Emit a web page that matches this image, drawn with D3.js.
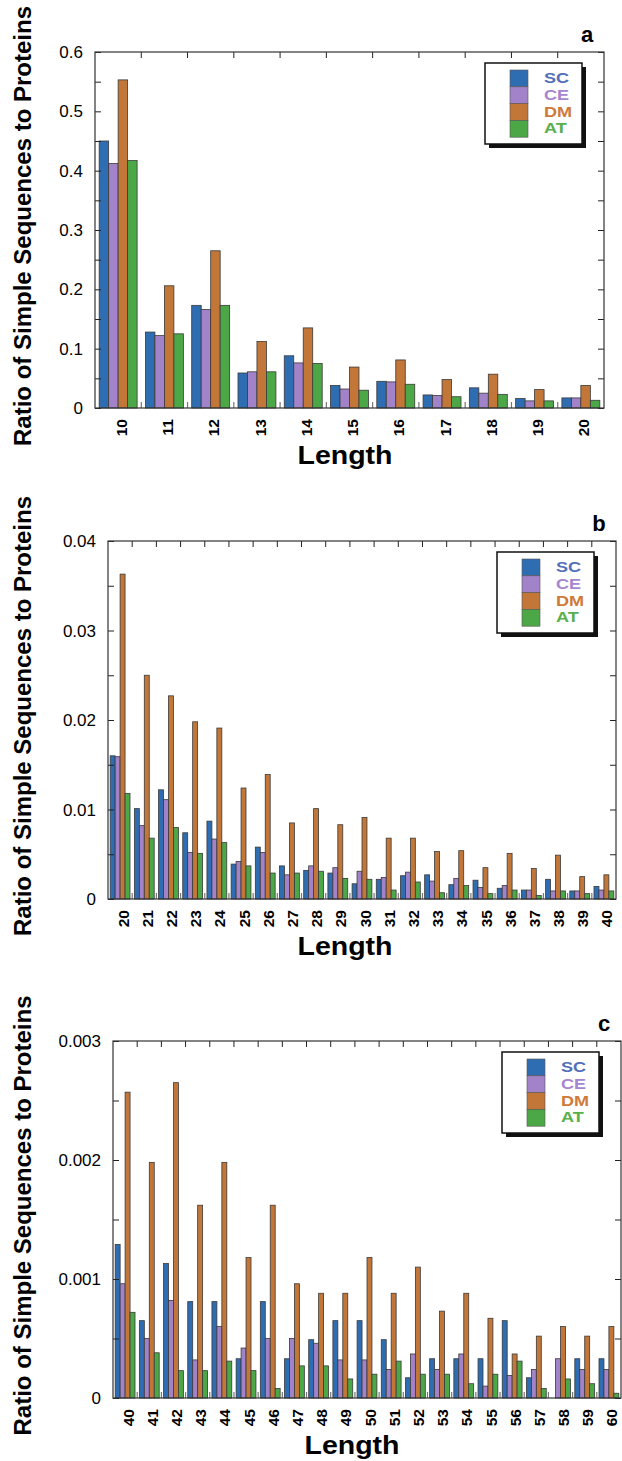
<!DOCTYPE html>
<html>
<head>
<meta charset="utf-8">
<script src="https://cdn.jsdelivr.net/npm/d3@7"></script>
<style>
  body { margin: 0; background: #fff; }
  svg text { font-family: "Liberation Sans", Arial, Helvetica, sans-serif; }
</style>
</head>
<body>
<div id="chart"></div>
<script>
/* jshint esversion: 6 */

// series names and colours
var seriesNames = ["SC", "CE", "DM", "AT"];
var barColors = ["#2f6db3", "#a282c9", "#c27638", "#4ca846"];
var labelColors = ["#5270ba", "#a687cf", "#d07a3a", "#58b04a"];

// panel a : lengths 10 - 20
var lengthsA = ["10", "11", "12", "13", "14", "15", "16", "17", "18", "19", "20"];
var scA = [0.450, 0.128, 0.173, 0.059, 0.088, 0.038, 0.045, 0.022, 0.034, 0.016, 0.017];
var ceA = [0.412, 0.122, 0.166, 0.061, 0.076, 0.032, 0.044, 0.021, 0.025, 0.012, 0.017];
var dmA = [0.553, 0.206, 0.265, 0.112, 0.135, 0.069, 0.081, 0.048, 0.057, 0.031, 0.038];
var atA = [0.417, 0.125, 0.173, 0.061, 0.075, 0.030, 0.040, 0.019, 0.023, 0.012, 0.013];
var yTicksA = [0, 0.1, 0.2, 0.3, 0.4, 0.5, 0.6];
var yLabelsA = ["0", "0.1", "0.2", "0.3", "0.4", "0.5", "0.6"];

// panel b : lengths 20 - 40
var lengthsB = ["20", "21", "22", "23", "24", "25", "26", "27", "28", "29", "30",
                "31", "32", "33", "34", "35", "36", "37", "38", "39", "40"];
var scB = [0.0160, 0.0101, 0.0122, 0.0074, 0.0087, 0.0039, 0.0058, 0.0037, 0.0032, 0.0029, 0.0017,
           0.0022, 0.0026, 0.0027, 0.0016, 0.0021, 0.0012, 0.0010, 0.0022, 0.0009, 0.0014];
var ceB = [0.0159, 0.0082, 0.0111, 0.0052, 0.0067, 0.0042, 0.0052, 0.0027, 0.0037, 0.0035, 0.0031,
           0.0024, 0.0030, 0.0020, 0.0023, 0.0013, 0.0015, 0.0010, 0.0009, 0.0009, 0.0010];
var dmB = [0.0363, 0.0250, 0.0227, 0.0198, 0.0191, 0.0124, 0.0139, 0.0085, 0.0101, 0.0083, 0.0091,
           0.0068, 0.0068, 0.0053, 0.0054, 0.0035, 0.0051, 0.0034, 0.0049, 0.0025, 0.0027];
var atB = [0.0118, 0.0068, 0.0080, 0.0051, 0.0063, 0.0037, 0.0029, 0.0029, 0.0031, 0.0023, 0.0022,
           0.0010, 0.0019, 0.0007, 0.0015, 0.0006, 0.0010, 0.0004, 0.0009, 0.0006, 0.0009];
var yTicksB = [0, 0.01, 0.02, 0.03, 0.04];
var yLabelsB = ["0", "0.01", "0.02", "0.03", "0.04"];

// panel c : lengths 40 - 60
var lengthsC = ["40", "41", "42", "43", "44", "45", "46", "47", "48", "49", "50",
                "51", "52", "53", "54", "55", "56", "57", "58", "59", "60"];
var scC = [0.00129, 0.00065, 0.00113, 0.00081, 0.00081, 0.00033, 0.00081, 0.00033, 0.00049, 0.00065, 0.00065,
           0.00049, 0.00017, 0.00033, 0.00033, 0.00033, 0.00065, 0.00017, 0, 0.00033, 0.00033];
var ceC = [0.00096, 0.00050, 0.00082, 0.00032, 0.00060, 0.00042, 0.00050, 0.00050, 0.00046, 0.00032, 0.00032,
           0.00024, 0.00037, 0.00024, 0.00037, 0.00010, 0.00019, 0.00024, 0.00033, 0.00024, 0.00024];
var dmC = [0.00257, 0.00198, 0.00265, 0.00162, 0.00198, 0.00118, 0.00162, 0.00096, 0.00088, 0.00088, 0.00118,
           0.00088, 0.00110, 0.00073, 0.00088, 0.00067, 0.00037, 0.00052, 0.00060, 0.00052, 0.00060];
var atC = [0.00072, 0.00038, 0.00023, 0.00023, 0.00031, 0.00023, 0.00008, 0.00027, 0.00027, 0.00016, 0.00020,
           0.00031, 0.00020, 0.00020, 0.00012, 0.00020, 0.00031, 0.00008, 0.00016, 0.00012, 0.00004];
var yTicksC = [0, 0.001, 0.002, 0.003];
var yLabelsC = ["0", "0.001", "0.002", "0.003"];

var W = 622, H = 1461;
var yTitle = "Ratio of Simple Sequences to Proteins";

var svg = d3.select("#chart").append("svg")
  .attr("width", W)
  .attr("height", H);

// one panel of grouped bars with the boxed frame
function drawPanel(p) {
  var g = svg.append("g");
  var n = p.cats.length;

  var x0 = d3.scaleBand().domain(p.cats).range([p.left, p.right]).padding(0);
  var bw = x0.bandwidth();
  var x1 = d3.scaleBand().domain(seriesNames).range([bw * 0.09, bw * 0.91]).padding(0);
  var y = d3.scaleLinear().domain([0, p.yMax]).range([p.bottom, p.top]);

  // bars
  var rows = p.cats.map(function (c, i) {
    return { cat: c, vals: p.series.map(function (s, k) { return { k: k, v: s[i] }; }) };
  });
  var grp = g.selectAll(".grp").data(rows).enter().append("g")
    .attr("transform", function (d) { return "translate(" + x0(d.cat) + ",0)"; });
  grp.selectAll("rect").data(function (d) { return d.vals.filter(function (e) { return e.v > 0; }); })
    .enter().append("rect")
    .attr("x", function (d) { return x1(seriesNames[d.k]); })
    .attr("width", x1.bandwidth())
    .attr("y", function (d) { return y(d.v); })
    .attr("height", function (d) { return p.bottom - y(d.v); })
    .style("fill", function (d) { return barColors[d.k]; })
    .style("stroke", "#3a3a3a")
    .style("stroke-width", 0.8);

  // minor ticks on left / right at half steps
  var step = p.yTicks[1] - p.yTicks[0];
  var minor = [];
  for (var i = 0; i < p.yTicks.length * 2 - 1; i++) {
    minor.push(i * step / 2);
  }
  var inner = [];
  for (var j = 1; j < n; j++) {
    inner.push(p.left + j * bw);
  }

  var left = d3.axisLeft(y).tickValues(minor).tickSize(-6).tickFormat("");
  var right = d3.axisRight(y).tickValues(minor).tickSize(-6).tickFormat("");
  g.append("g").attr("transform", "translate(" + p.left + ",0)").call(left);
  g.append("g").attr("transform", "translate(" + p.right + ",0)").call(right);

  // top ticks at group boundaries
  g.selectAll(".tt").data(inner).enter().append("line")
    .attr("x1", function (d) { return d; }).attr("x2", function (d) { return d; })
    .attr("y1", p.top).attr("y2", p.top + 6)
    .style("stroke", "#222").style("stroke-width", 1);
  // bottom ticks (lighter)
  g.selectAll(".bt").data(inner).enter().append("line")
    .attr("x1", function (d) { return d; }).attr("x2", function (d) { return d; })
    .attr("y1", p.bottom).attr("y2", p.bottom - 6)
    .style("stroke", "#777").style("stroke-width", 1.2);

  g.selectAll(".domain").remove();
  g.selectAll(".tick line").style("stroke", "#222");

  // frame
  g.append("rect")
    .attr("x", p.left).attr("y", p.top)
    .attr("width", p.right - p.left).attr("height", p.bottom - p.top)
    .style("fill", "none").style("stroke", "#333").style("stroke-width", 1.2);

  // y tick labels
  g.selectAll(".yl").data(p.yTicks).enter().append("text")
    .attr("x", p.left - 12)
    .attr("y", function (d) { return y(d); })
    .attr("dy", "0.36em")
    .attr("text-anchor", "end")
    .style("font-size", "17px")
    .text(function (d, i) { return p.yLabels[i]; });

  // x tick labels, rotated
  g.selectAll(".xl").data(p.cats).enter().append("text")
    .attr("transform", function (d) {
      return "translate(" + (x0(d) + bw / 2 + 3) + "," + (p.bottom + 11) + ") rotate(-90)";
    })
    .attr("dy", "0.36em")
    .attr("text-anchor", "end")
    .style("font-size", "15.5px")
    .style("font-weight", "bold")
    .text(function (d) { return d; });

  // axis titles
  g.append("text")
    .attr("x", p.lengthX)
    .attr("y", p.bottom + 56)
    .attr("text-anchor", "middle")
    .attr("textLength", 95)
    .attr("lengthAdjust", "spacingAndGlyphs")
    .style("font-size", "26px")
    .style("font-weight", "bold")
    .text("Length");

  g.append("text")
    .attr("transform", "translate(31," + ((p.top + p.bottom) / 2 - 4) + ") rotate(-90)")
    .attr("text-anchor", "middle")
    .attr("textLength", 440)
    .attr("lengthAdjust", "spacingAndGlyphs")
    .style("font-size", "23px")
    .style("font-weight", "bold")
    .text(yTitle);

  // panel letter
  g.append("text")
    .attr("x", p.right - 17)
    .attr("y", p.top - 10)
    .attr("text-anchor", "middle")
    .style("font-size", "22px")
    .style("font-weight", "bold")
    .text(p.letter);

  // legend with drop shadow
  var lx = p.right - 119, ly = p.top + 11;
  var leg = g.append("g").attr("transform", "translate(" + lx + "," + ly + ")");
  leg.append("rect").attr("x", 4).attr("y", 4).attr("width", 97).attr("height", 81)
    .style("fill", "#111");
  leg.append("rect").attr("x", 0).attr("y", 0).attr("width", 97).attr("height", 81)
    .style("fill", "#fff").style("stroke", "#111").style("stroke-width", 1.5);
  seriesNames.forEach(function (s, k) {
    leg.append("rect")
      .attr("x", 25).attr("y", 7 + k * 16.8)
      .attr("width", 18).attr("height", 16.8)
      .style("fill", barColors[k])
      .style("stroke", "#555").style("stroke-width", 0.6);
    var t = leg.append("text")
      .attr("x", 59).attr("y", 7 + k * 16.8 + 13)
      .style("font-size", "14.8px")
      .style("font-weight", "bold")
      .style("fill", labelColors[k])
      .text(s);
    // widen a little, the original lettering is broad
    var w = t.node().getComputedTextLength();
    t.attr("textLength", w * 1.22).attr("lengthAdjust", "spacingAndGlyphs");
  });
}

drawPanel({ cats: lengthsA, series: [scA, ceA, dmA, atA], yMax: 0.6, yTicks: yTicksA, yLabels: yLabelsA,
  left: 95, right: 604, top: 52, bottom: 408, lengthX: 345, letter: "a" });
drawPanel({ cats: lengthsB, series: [scB, ceB, dmB, atB], yMax: 0.04, yTicks: yTicksB, yLabels: yLabelsB,
  left: 108, right: 616, top: 541, bottom: 899, lengthX: 345, letter: "b" });
drawPanel({ cats: lengthsC, series: [scC, ceC, dmC, atC], yMax: 0.003, yTicks: yTicksC, yLabels: yLabelsC,
  left: 113, right: 621, top: 1041, bottom: 1398, lengthX: 352, letter: "c" });
</script>
</body>
</html>
